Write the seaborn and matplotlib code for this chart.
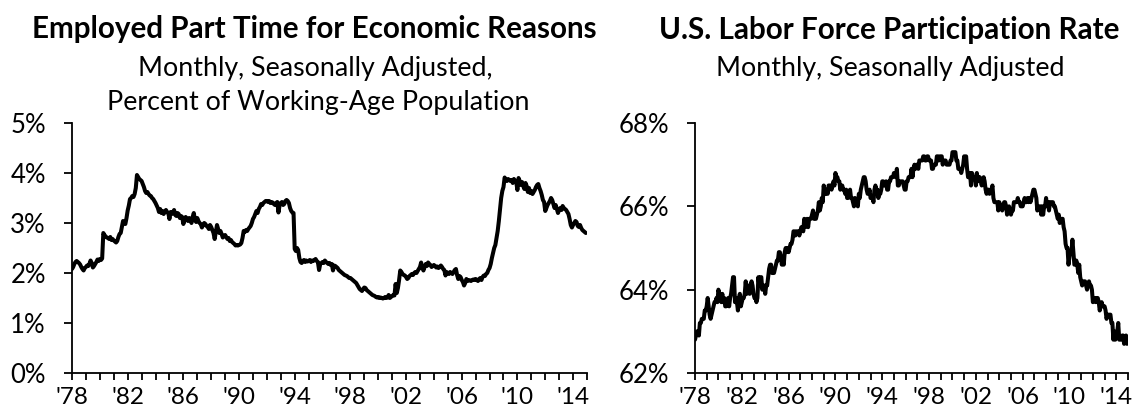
import numpy as np
import pandas as pd
import matplotlib
matplotlib.use("Agg")
import matplotlib.pyplot as plt
import seaborn as sns
from matplotlib.ticker import FixedLocator, FuncFormatter

# ---------------- data (monthly, Jan 1978 - Dec 2014) ----------------
start_month = "1978-01"

# Employed part time for economic reasons, % of working-age population
part_time_pct = [
    2.08, 2.12, 2.18, 2.22, 2.24, 2.22, 2.20, 2.17, 2.12, 2.08, 2.05, 2.10,  # 1978
    2.12, 2.15, 2.14, 2.18, 2.25, 2.20, 2.11, 2.14, 2.18, 2.22, 2.27, 2.24,  # 1979
    2.28, 2.26, 2.29, 2.80, 2.76, 2.73, 2.71, 2.70, 2.68, 2.72, 2.66, 2.68,  # 1980
    2.65, 2.63, 2.61, 2.64, 2.72, 2.78, 2.80, 2.92, 3.04, 3.02, 2.98, 3.10,  # 1981
    3.25, 3.35, 3.48, 3.50, 3.54, 3.52, 3.58, 3.70, 3.96, 3.92, 3.88, 3.86,  # 1982
    3.84, 3.78, 3.72, 3.64, 3.60, 3.62, 3.58, 3.55, 3.54, 3.50, 3.48, 3.44,  # 1983
    3.40, 3.35, 3.30, 3.22, 3.28, 3.20, 3.24, 3.18, 3.22, 3.26, 3.22, 3.20,  # 1984
    3.08, 3.22, 3.18, 3.20, 3.26, 3.16, 3.14, 3.20, 3.18, 3.10, 3.14, 3.12,  # 1985
    2.98, 3.05, 3.12, 3.08, 3.04, 3.10, 3.06, 3.00, 3.12, 3.20, 3.06, 3.02,  # 1986
    3.10, 3.04, 3.00, 2.98, 2.91, 2.96, 3.00, 2.98, 2.94, 2.92, 2.88, 2.96,  # 1987
    2.92, 2.86, 2.80, 2.68, 2.82, 2.96, 2.88, 2.80, 2.84, 2.78, 2.71, 2.74,  # 1988
    2.76, 2.72, 2.68, 2.70, 2.64, 2.66, 2.62, 2.60, 2.58, 2.55, 2.56, 2.55,  # 1989
    2.56, 2.57, 2.60, 2.70, 2.84, 2.82, 2.86, 2.84, 2.88, 2.91, 2.94, 3.00,  # 1990
    3.08, 3.12, 3.18, 3.24, 3.20, 3.28, 3.32, 3.38, 3.36, 3.40, 3.42, 3.44,  # 1991
    3.44, 3.42, 3.44, 3.40, 3.42, 3.41, 3.38, 3.36, 3.40, 3.42, 3.21, 3.36,  # 1992
    3.40, 3.42, 3.36, 3.38, 3.44, 3.46, 3.44, 3.40, 3.30, 3.24, 3.21, 3.20,  # 1993
    2.48, 2.44, 2.50, 2.46, 2.30, 2.22, 2.20, 2.24, 2.26, 2.22, 2.25, 2.23,  # 1994
    2.24, 2.26, 2.22, 2.25, 2.24, 2.26, 2.28, 2.24, 2.22, 2.06, 2.18, 2.20,  # 1995
    2.22, 2.20, 2.25, 2.22, 2.20, 2.18, 2.20, 2.16, 2.18, 2.05, 2.15, 2.14,  # 1996
    2.12, 2.10, 2.06, 2.04, 2.02, 2.00, 1.98, 1.96, 1.95, 1.94, 1.92, 1.90,  # 1997
    1.90, 1.88, 1.86, 1.84, 1.82, 1.80, 1.76, 1.72, 1.68, 1.66, 1.64, 1.68,  # 1998
    1.71, 1.70, 1.66, 1.64, 1.62, 1.60, 1.58, 1.56, 1.55, 1.54, 1.52, 1.51,  # 1999
    1.52, 1.50, 1.51, 1.50, 1.49, 1.50, 1.52, 1.50, 1.51, 1.56, 1.50, 1.52,  # 2000
    1.54, 1.56, 1.55, 1.78, 1.60, 1.70, 1.86, 2.05, 2.02, 1.98, 1.96, 1.95,  # 2001
    1.92, 1.88, 1.90, 1.94, 1.96, 1.98, 1.96, 2.00, 2.02, 2.00, 2.04, 2.08,  # 2002
    2.12, 2.21, 2.10, 2.05, 2.12, 2.18, 2.14, 2.21, 2.18, 2.16, 2.12, 2.14,  # 2003
    2.16, 2.14, 2.11, 2.13, 2.10, 2.12, 2.15, 2.12, 2.08, 2.06, 1.95, 2.02,  # 2004
    2.00, 1.98, 2.02, 2.00, 1.98, 2.02, 2.06, 2.08, 1.96, 1.88, 1.94, 1.92,  # 2005
    1.86, 1.82, 1.75, 1.80, 1.88, 1.84, 1.86, 1.85, 1.84, 1.86, 1.87, 1.86,  # 2006
    1.88, 1.86, 1.84, 1.88, 1.90, 1.86, 1.92, 1.95, 1.94, 1.98, 2.00, 2.06,  # 2007
    2.10, 2.18, 2.30, 2.40, 2.50, 2.56, 2.70, 2.84, 3.04, 3.28, 3.50, 3.64,  # 2008
    3.72, 3.91, 3.86, 3.84, 3.88, 3.86, 3.84, 3.86, 3.80, 3.88, 3.84, 3.82,  # 2009
    3.66, 3.90, 3.84, 3.76, 3.82, 3.74, 3.68, 3.80, 3.74, 3.62, 3.70, 3.60,  # 2010
    3.64, 3.58, 3.62, 3.66, 3.72, 3.76, 3.78, 3.70, 3.64, 3.56, 3.46, 3.42,  # 2011
    3.24, 3.30, 3.36, 3.40, 3.44, 3.50, 3.46, 3.38, 3.30, 3.36, 3.28, 3.20,  # 2012
    3.26, 3.30, 3.26, 3.34, 3.30, 3.28, 3.26, 3.22, 3.18, 3.08, 2.96, 2.91,  # 2013
    2.96, 3.00, 3.04, 3.02, 2.94, 2.92, 2.96, 2.90, 2.86, 2.84, 2.82, 2.80,  # 2014
]

# U.S. labor force participation rate, %
lfpr_pct = [
    62.8, 62.9, 63.0, 63.0, 62.9, 63.2, 63.2, 63.3, 63.3, 63.3, 63.5, 63.5,  # 1978
    63.6, 63.8, 63.6, 63.4, 63.3, 63.4, 63.5, 63.6, 63.7, 63.7, 63.8, 63.7,  # 1979
    64.0, 63.9, 63.8, 63.7, 63.9, 63.7, 63.8, 63.6, 63.6, 63.7, 63.8, 63.6,  # 1980
    63.8, 63.9, 64.1, 64.3, 64.3, 63.7, 63.8, 63.7, 63.5, 63.8, 63.9, 63.6,  # 1981
    63.7, 63.8, 63.8, 63.9, 64.2, 63.9, 64.0, 64.1, 63.9, 64.1, 64.2, 64.1,  # 1982
    63.9, 63.8, 63.8, 63.7, 63.8, 64.3, 64.1, 64.3, 64.3, 64.0, 64.1, 64.1,  # 1983
    63.9, 64.1, 64.1, 64.3, 64.5, 64.6, 64.6, 64.4, 64.4, 64.4, 64.5, 64.6,  # 1984
    64.7, 64.7, 64.9, 64.9, 64.8, 64.6, 64.7, 64.6, 64.9, 65.0, 64.9, 65.0,  # 1985
    64.9, 65.0, 65.1, 65.1, 65.2, 65.4, 65.4, 65.3, 65.4, 65.4, 65.4, 65.3,  # 1986
    65.4, 65.5, 65.5, 65.4, 65.7, 65.5, 65.6, 65.7, 65.5, 65.7, 65.7, 65.7,  # 1987
    65.8, 65.9, 65.7, 65.8, 65.7, 65.8, 65.9, 66.1, 65.9, 66.0, 66.2, 66.1,  # 1988
    66.5, 66.3, 66.3, 66.4, 66.3, 66.5, 66.5, 66.5, 66.4, 66.5, 66.6, 66.5,  # 1989
    66.8, 66.7, 66.7, 66.6, 66.6, 66.4, 66.5, 66.5, 66.4, 66.4, 66.3, 66.4,  # 1990
    66.2, 66.2, 66.3, 66.4, 66.2, 66.2, 66.1, 66.0, 66.2, 66.1, 66.1, 66.0,  # 1991
    66.3, 66.2, 66.4, 66.5, 66.6, 66.7, 66.7, 66.6, 66.4, 66.3, 66.3, 66.4,  # 1992
    66.2, 66.2, 66.2, 66.1, 66.4, 66.5, 66.4, 66.4, 66.2, 66.3, 66.3, 66.4,  # 1993
    66.6, 66.6, 66.5, 66.5, 66.6, 66.4, 66.4, 66.6, 66.6, 66.7, 66.7, 66.7,  # 1994
    66.8, 66.8, 66.7, 66.9, 66.5, 66.5, 66.6, 66.6, 66.6, 66.6, 66.5, 66.4,  # 1995
    66.4, 66.6, 66.6, 66.7, 66.7, 66.7, 66.9, 66.7, 66.9, 67.0, 66.9, 67.0,  # 1996
    67.0, 66.9, 67.1, 67.1, 67.1, 67.1, 67.2, 67.2, 67.1, 67.1, 67.2, 67.2,  # 1997
    67.1, 67.1, 67.1, 66.9, 66.9, 67.0, 67.0, 67.0, 67.2, 67.2, 67.1, 67.2,  # 1998
    67.2, 67.2, 67.0, 67.1, 67.1, 67.1, 67.0, 67.0, 67.0, 67.0, 67.1, 67.1,  # 1999
    67.3, 67.3, 67.3, 67.3, 67.1, 67.1, 66.9, 66.9, 66.9, 66.8, 66.9, 67.0,  # 2000
    67.2, 67.1, 67.2, 66.9, 66.7, 66.7, 66.8, 66.5, 66.8, 66.7, 66.7, 66.7,  # 2001
    66.5, 66.8, 66.6, 66.7, 66.7, 66.6, 66.5, 66.6, 66.7, 66.6, 66.4, 66.3,  # 2002
    66.4, 66.4, 66.3, 66.4, 66.4, 66.5, 66.2, 66.1, 66.1, 66.1, 66.1, 65.9,  # 2003
    66.1, 66.0, 66.0, 65.9, 66.0, 66.1, 66.1, 66.0, 65.8, 65.9, 66.0, 65.9,  # 2004
    65.8, 65.9, 65.9, 66.1, 66.1, 66.1, 66.1, 66.2, 66.1, 66.1, 66.0, 66.0,  # 2005
    66.0, 66.1, 66.2, 66.1, 66.1, 66.2, 66.1, 66.2, 66.1, 66.2, 66.3, 66.4,  # 2006
    66.4, 66.3, 66.2, 65.9, 66.0, 66.0, 66.0, 65.8, 66.0, 65.8, 66.0, 66.0,  # 2007
    66.2, 66.0, 66.1, 65.9, 66.1, 66.1, 66.1, 66.1, 66.0, 66.0, 65.9, 65.8,  # 2008
    65.7, 65.8, 65.6, 65.7, 65.7, 65.7, 65.5, 65.4, 65.1, 65.0, 65.0, 64.6,  # 2009
    64.8, 64.9, 64.9, 65.2, 64.9, 64.6, 64.6, 64.7, 64.6, 64.4, 64.6, 64.3,  # 2010
    64.2, 64.1, 64.2, 64.2, 64.2, 64.1, 64.0, 64.1, 64.2, 64.1, 64.1, 64.0,  # 2011
    63.7, 63.8, 63.8, 63.7, 63.8, 63.8, 63.7, 63.5, 63.6, 63.7, 63.6, 63.6,  # 2012
    63.6, 63.5, 63.3, 63.4, 63.4, 63.4, 63.4, 63.2, 63.2, 62.8, 63.0, 62.8,  # 2013
    62.9, 63.0, 63.2, 62.8, 62.8, 62.8, 62.9, 62.9, 62.7, 62.8, 62.9, 62.7,  # 2014
]

label_years = [1978, 1982, 1986, 1990, 1994, 1998, 2002, 2006, 2010, 2014]
year_labels = ["'78", "'82", "'86", "'90", "'94", "'98", "'02", "'06", "'10", "'14"]
pt_yticks = [0, 1, 2, 3, 4, 5]
lfpr_yticks = [62, 64, 66, 68]

left_title = "Employed Part Time for Economic Reasons"
left_subtitle = ["Monthly, Seasonally Adjusted,", "Percent of Working-Age Population"]
right_title = "U.S. Labor Force Participation Rate"
right_subtitle = ["Monthly, Seasonally Adjusted"]

# ---------------- styling ----------------
sns.set_style("ticks")
plt.rcParams["font.family"] = ["Lato", "DejaVu Sans"]

W, H = 1135, 418
fig = plt.figure(figsize=(W / 100, H / 100), dpi=100)

def px_axes(x0, x1, y_top, y_bot):
    return fig.add_axes([x0 / W, 1 - y_bot / H, (x1 - x0) / W, (y_bot - y_top) / H])

ax1 = px_axes(72, 587, 123, 373)
ax2 = px_axes(695, 1128, 123, 373)

dates = pd.date_range(start_month, periods=len(part_time_pct), freq="MS")
t = dates.year + (dates.month - 1) / 12.0
df1 = pd.DataFrame({"t": t, "v": part_time_pct})
df2 = pd.DataFrame({"t": t, "v": lfpr_pct})

sns.lineplot(data=df1, x="t", y="v", ax=ax1, color="black", linewidth=2.9)
sns.lineplot(data=df2, x="t", y="v", ax=ax2, color="black", linewidth=2.9)

all_years = list(range(1978, 2016))
for ax, yt in ((ax1, pt_yticks), (ax2, lfpr_yticks)):
    ax.set_xlim(1978, 2015)
    ax.set_ylim(yt[0], yt[-1])
    ax.set_xlabel("")
    ax.set_ylabel("")
    ax.xaxis.set_major_locator(FixedLocator(label_years))
    ax.set_xticklabels(year_labels)
    ax.xaxis.set_minor_locator(FixedLocator(all_years))
    ax.set_yticks(yt)
    ax.yaxis.set_major_formatter(FuncFormatter(lambda v, p: f"{v:.0f}%"))
    for s in ("top", "right"):
        ax.spines[s].set_visible(False)
    for s in ("left", "bottom"):
        ax.spines[s].set_linewidth(1.3)
        ax.spines[s].set_color("black")
    ax.tick_params(axis="x", which="both", direction="out", length=5, width=1.3,
                   color="black", labelsize=17.5, pad=5, labelcolor="black")
    ax.tick_params(axis="y", which="major", direction="out", length=5.8, width=1.3,
                   color="black", labelsize=18.5, pad=13, labelcolor="black")
    ax.set_facecolor("white")

# titles
def ftext(xpx, ypx, s, **kw):
    fig.text(xpx / W, 1 - ypx / H, s, ha="center", va="baseline", color="black", **kw)

ftext(314, 38, left_title, fontsize=21.3, fontweight="bold")
ftext(315, 76, left_subtitle[0], fontsize=19.3)
ftext(318, 110, left_subtitle[1], fontsize=19.3)
ftext(889, 39, right_title, fontsize=21.3, fontweight="bold")
ftext(890, 76, right_subtitle[0], fontsize=19.3)

fig.savefig("out.png", dpi=100, facecolor="white")
